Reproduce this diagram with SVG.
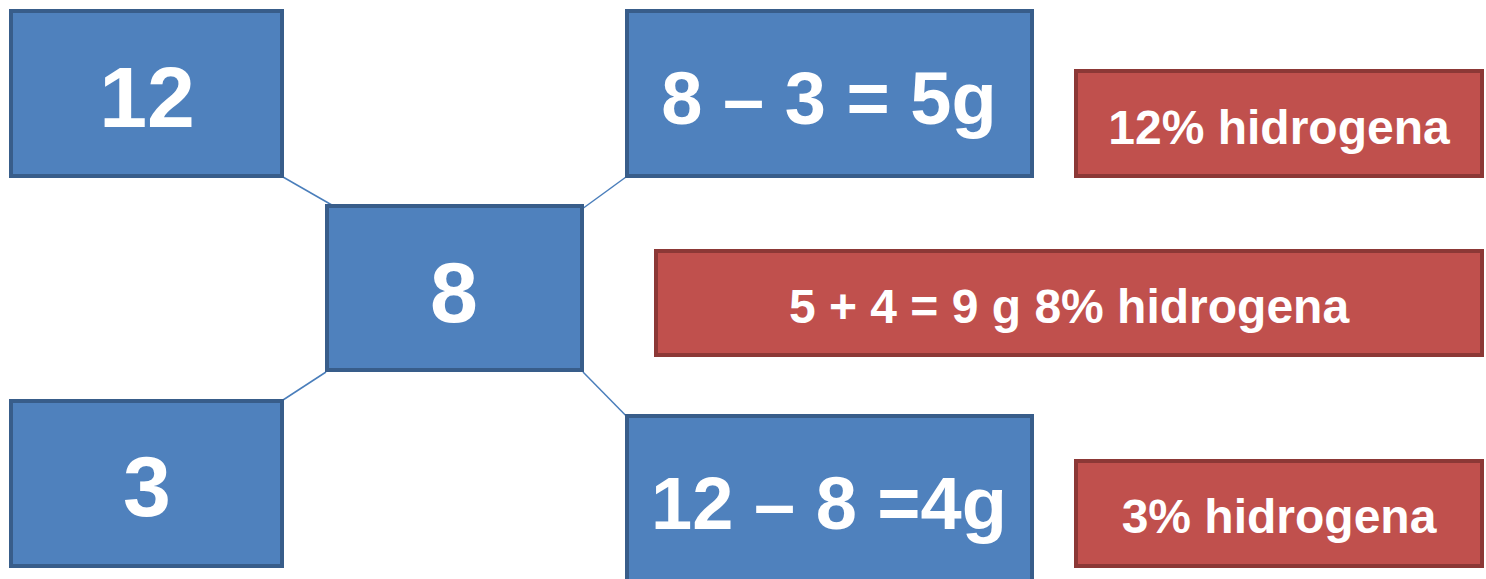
<svg xmlns="http://www.w3.org/2000/svg" width="1486" height="579" viewBox="0 0 1486 579">
<style>
.blue{fill:#4F81BD;stroke:#385D8A;stroke-width:4}
.red{fill:#C0504D;stroke:#8C3836;stroke-width:4}
text{font-family:"Liberation Sans",Arial,sans-serif;font-weight:bold;fill:#FFFFFF;text-anchor:middle}
.big{font-size:86px}
.mid{font-size:74px}
.sm{font-size:48px}
.con{stroke:#4A7EBB;stroke-width:1.5;fill:none}
</style>
<rect width="1486" height="579" fill="#FFFFFF"/>
<g id="connectors">
<line class="con" x1="283" y1="177" x2="358" y2="220"/>
<line class="con" x1="626" y1="177" x2="567" y2="220"/>
<line class="con" x1="283" y1="400" x2="326" y2="372"/>
<line class="con" x1="583" y1="372" x2="640" y2="430"/>
</g>
<g id="n12"><rect class="blue" x="11" y="11" width="271" height="165"/><text class="big" x="147" y="127">12</text></g>
<g id="n8"><rect class="blue" x="327" y="206" width="255" height="164"/><text class="big" x="454" y="322">8</text></g>
<g id="n3"><rect class="blue" x="11" y="401" width="271" height="165"/><text class="big" x="147" y="516">3</text></g>
<g id="n5g"><rect class="blue" x="627" y="11" width="405" height="165"/><text class="mid" x="829" y="124">8 – 3 = 5g</text></g>
<g id="n4g"><rect class="blue" x="627" y="416" width="405" height="170"/><text class="mid" x="829" y="529">12 – 8 =4g</text></g>
<g id="r12"><rect class="red" x="1076" y="71" width="406" height="105"/><text class="sm" x="1279" y="144">12% hidrogena</text></g>
<g id="r8"><rect class="red" x="656" y="251" width="826" height="104"/><text class="sm" x="1069" y="323">5 + 4 = 9 g 8% hidrogena</text></g>
<g id="r3"><rect class="red" x="1076" y="461" width="406" height="105"/><text class="sm" x="1279" y="533">3% hidrogena</text></g>
</svg>
